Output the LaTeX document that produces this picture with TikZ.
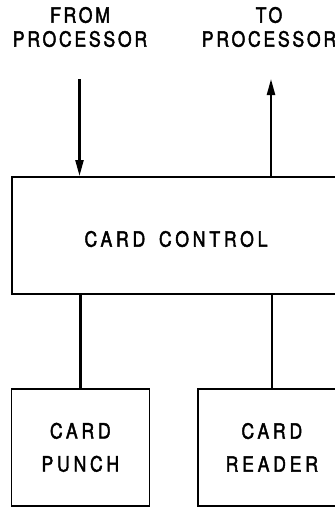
\documentclass[tikz,border=0pt]{standalone}
\usepackage{fontspec}
\setmainfont{TeX Gyre Heros}[LetterSpace=13,FakeStretch=0.84,FakeBold=2]
\newfontfamily\widefont{TeX Gyre Heros}[LetterSpace=18,FakeStretch=0.84,FakeBold=2]
\usetikzlibrary{arrows.meta}
\begin{document}
\begin{tikzpicture}[x=1pt,y=-1pt,
  box/.style={draw,line width=1.7pt,inner sep=0pt,align=center,
    font=\widefont\fontsize{21}{33}\selectfont},
  lbl/.style={align=center,inner sep=0pt,font=\fontsize{21}{24}\selectfont},
  link/.style={line width=2.3pt},
  flow/.style={line width=2.3pt,-{Triangle[length=16pt,width=8pt]}}]
\useasboundingbox (0,0) rectangle (335,507);
\begin{scope}
\clip (0,0) rectangle (335,507);
% processor labels
\node[lbl] (fromlbl) at (80,27) {FROM\\PROCESSOR};
\node[lbl] (tolbl) at (269,27) {TO\\PROCESSOR};
% boxes
\node[box,minimum width=330pt,minimum height=117pt,anchor=north west] (ctl) at (11,176) {};
\node[lbl,font=\widefont\fontsize{21}{25}\selectfont] (ctltext) at (176,239) {CARD\hspace{5pt} CONTROL};
\node[box,minimum width=138pt,minimum height=117pt,anchor=north west] (punch) at (10.5,388) {CARD\\PUNCH};
\node[box,minimum width=148pt,minimum height=117pt,anchor=north west] (reader) at (197,388) {CARD\\READER};
% free ends of the processor connectors
\coordinate (fromtop) at (79.5,79);
\coordinate (totop) at (271,79);
% connectors
\draw[flow] (fromtop) -- (fromtop |- ctl.north);
\draw[flow] (totop |- ctl.north) -- (totop);
\draw[link] (punch.north) -- (punch.north |- ctl.south);
\draw[link] (reader.north) -- (reader.north |- ctl.south);
\end{scope}
\end{tikzpicture}
\end{document}
